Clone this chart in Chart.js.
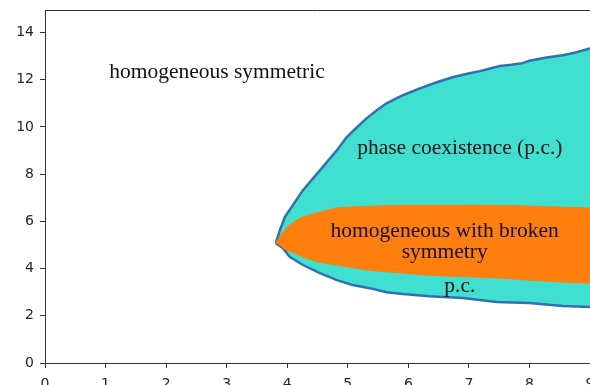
<!DOCTYPE html>
<html>
<head>
<meta charset="utf-8">
<script src="https://cdn.jsdelivr.net/npm/chart.js@4/dist/chart.umd.min.js"></script>
<style>
  html, body { margin: 0; padding: 0; background: #fff; overflow: hidden; }
  #wrap { width: 590px; height: 385px; }
</style>
</head>
<body>
<div id="wrap"><canvas id="c" width="590" height="385"></canvas></div>
<script>
// Outer boundary (phase coexistence region), upper branch, from the tip to the right
const outerUpperX = [3.81, 3.88, 3.96, 4.26, 4.54, 4.82, 4.98, 5.15, 5.31, 5.48, 5.64, 5.91, 6.19, 6.47, 6.73, 7.01, 7.18, 7.51, 7.70, 7.89, 8.00, 8.28, 8.55, 8.78, 9.00, 9.10];
const outerUpperY = [5.08, 5.63, 6.18, 7.32, 8.16, 9.01, 9.56, 9.98, 10.36, 10.70, 11.00, 11.34, 11.63, 11.89, 12.10, 12.27, 12.36, 12.58, 12.63, 12.70, 12.80, 12.94, 13.03, 13.16, 13.32, 13.38];
// Outer boundary, lower branch, from the tip to the right
const outerLowerX = [3.81, 3.93, 4.04, 4.26, 4.54, 4.82, 5.08, 5.36, 5.64, 5.91, 6.35, 6.90, 7.46, 8.00, 8.55, 9.00, 9.10];
const outerLowerY = [5.08, 4.86, 4.50, 4.15, 3.81, 3.51, 3.30, 3.17, 3.00, 2.92, 2.83, 2.75, 2.58, 2.54, 2.41, 2.37, 2.35];
// Broken-symmetry region, upper branch
const brokenUpperX = [3.81, 3.88, 3.93, 4.04, 4.16, 4.26, 4.54, 4.82, 5.36, 5.91, 6.35, 7.46, 8.55, 9.00, 9.10];
const brokenUpperY = [5.12, 5.33, 5.54, 5.84, 6.05, 6.18, 6.39, 6.56, 6.64, 6.68, 6.68, 6.68, 6.60, 6.56, 6.55];
// Broken-symmetry region, lower branch
const brokenLowerX = [3.81, 3.88, 3.99, 4.16, 4.26, 4.54, 4.82, 5.36, 5.91, 6.35, 7.46, 8.00, 8.55, 9.00, 9.10];
const brokenLowerY = [5.12, 4.99, 4.78, 4.61, 4.48, 4.27, 4.15, 3.93, 3.81, 3.72, 3.60, 3.51, 3.43, 3.38, 3.37];
// Region labels and their anchor positions (data units)
const labelTexts = [["homogeneous symmetric"], ["phase coexistence (p.c.)"], ["homogeneous with broken", "symmetry"], ["p.c."]];
const labelX = [2.84, 6.85, 6.60, 6.85];
const labelY = [12.31, 9.09, 5.14, 3.26];
// Axis tick values
const xTicks = [0, 1, 2, 3, 4, 5, 6, 7, 8, 9];
const yTicks = [0, 2, 4, 6, 8, 10, 12, 14];

function closedLoop(ux, uy, lx, ly) {
  const pts = ux.map((x, i) => ({ x: x, y: uy[i] }));
  for (let i = lx.length - 1; i >= 0; i--) pts.push({ x: lx[i], y: ly[i] });
  return pts;
}

const boxPlugin = {
  id: 'box',
  afterDraw(chart) {
    const a = chart.chartArea, ctx = chart.ctx;
    ctx.save();
    ctx.strokeStyle = '#333';
    ctx.lineWidth = 1;
    ctx.beginPath();
    ctx.moveTo(a.left, a.top + 0.5);
    ctx.lineTo(a.right, a.top + 0.5);
    ctx.stroke();
    ctx.restore();
  }
};

const textPlugin = {
  id: 'regionText',
  afterDatasetsDraw(chart) {
    const ctx = chart.ctx, xs = chart.scales.x, ys = chart.scales.y;
    ctx.save();
    ctx.font = '21.5px "Liberation Serif", "DejaVu Serif", serif';
    ctx.fillStyle = '#111';
    ctx.textAlign = 'center';
    ctx.textBaseline = 'middle';
    const lh = 21;
    labelTexts.forEach((lines, i) => {
      const px = xs.getPixelForValue(labelX[i]);
      const py = ys.getPixelForValue(labelY[i]);
      const y0 = py - (lines.length - 1) * lh / 2;
      lines.forEach((t, j) => ctx.fillText(t, px, y0 + j * lh));
    });
    ctx.restore();
  }
};

new Chart(document.getElementById('c'), {
  type: 'scatter',
  data: {
    datasets: [
      {
        label: 'phase coexistence',
        data: closedLoop(outerUpperX, outerUpperY, outerLowerX, outerLowerY),
        showLine: true,
        fill: 'shape',
        backgroundColor: '#40E0D0',
        borderColor: '#2f6fb3',
        borderWidth: 2.5,
        pointRadius: 0,
        tension: 0,
        order: 2
      },
      {
        label: 'broken symmetry',
        data: closedLoop(brokenUpperX, brokenUpperY, brokenLowerX, brokenLowerY),
        showLine: true,
        fill: 'shape',
        backgroundColor: '#FF7F0E',
        borderColor: '#FF7F0E',
        borderWidth: 1,
        pointRadius: 0,
        tension: 0.3,
        order: 1
      }
    ]
  },
  options: {
    responsive: false,
    animation: false,
    devicePixelRatio: 1,
    layout: { padding: { top: 10, left: 0, right: 0, bottom: 0 } },
    plugins: { legend: { display: false }, tooltip: { enabled: false } },
    scales: {
      x: {
        type: 'linear',
        min: 0,
        max: 9,
        afterBuildTicks(scale) { scale.ticks = xTicks.map(v => ({ value: v })); },
        afterFit(scale) { scale.height = 22; scale.paddingLeft = 0; scale.paddingRight = 0; },
        ticks: { color: '#262626', font: { family: '"DejaVu Sans"', size: 14 }, padding: 8, maxRotation: 0, autoSkip: false },
        grid: { drawOnChartArea: false, drawTicks: true, tickLength: 5, color: '#333' },
        border: { display: true, color: '#333', width: 1 }
      },
      y: {
        type: 'linear',
        min: 0,
        max: 14.95,
        afterBuildTicks(scale) { scale.ticks = yTicks.map(v => ({ value: v })); },
        afterFit(scale) { scale.width = 45; scale.paddingTop = 0; scale.paddingBottom = 0; },
        ticks: { color: '#262626', font: { family: '"DejaVu Sans"', size: 14 }, padding: 6, autoSkip: false },
        grid: { drawOnChartArea: false, drawTicks: true, tickLength: 5, color: '#333' },
        border: { display: true, color: '#333', width: 1 }
      }
    }
  },
  plugins: [boxPlugin, textPlugin]
});
</script>
</body>
</html>
